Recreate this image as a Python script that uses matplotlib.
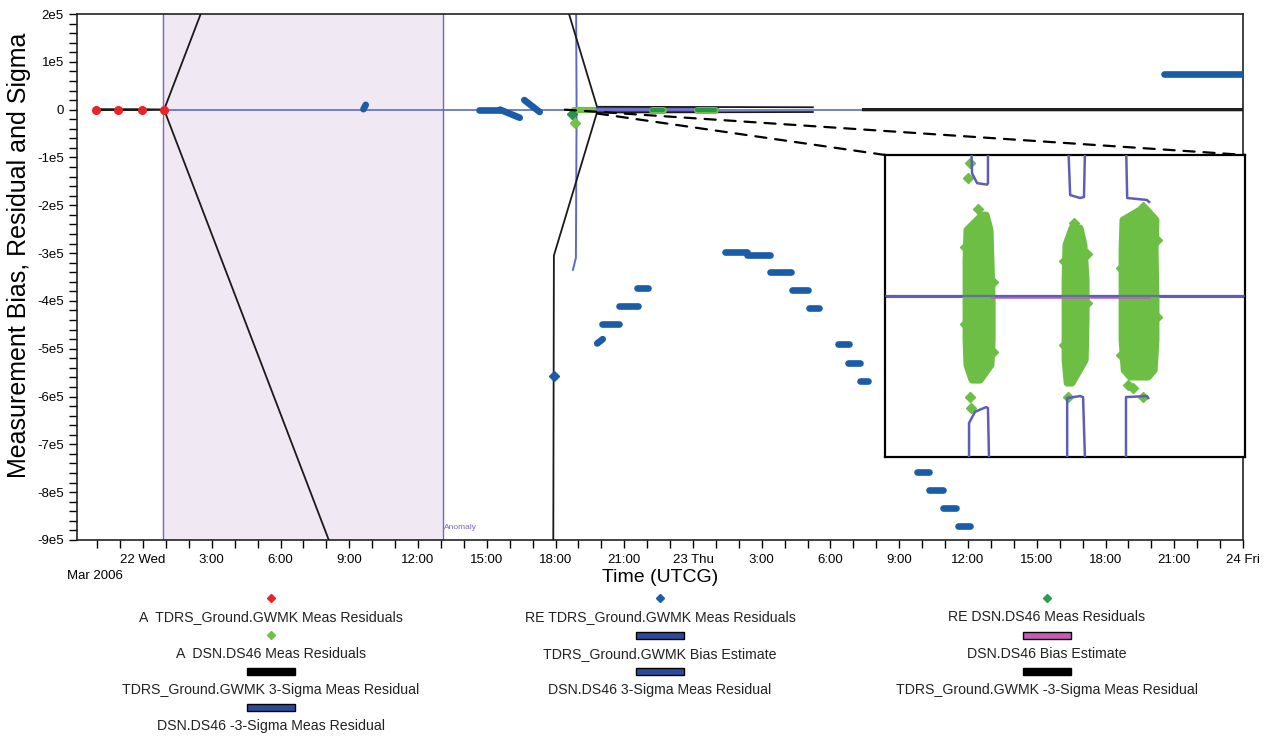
import datetime as dt

import matplotlib
matplotlib.use('Agg')
import matplotlib.pyplot as plt
from matplotlib.lines import Line2D
from matplotlib.patches import ConnectionPatch, Rectangle
from matplotlib.ticker import FuncFormatter, MultipleLocator

plt.rcParams['font.family'] = ['Liberation Sans', 'DejaVu Sans']

# time axis: hours since 22 Mar 2006 00:00 UTCG
T0 = dt.datetime(2006, 3, 22)
T_MIN, T_MAX = -2.88, 48.0
V_MIN, V_MAX = -9e5, 2e5

# A TDRS_Ground.GWMK Meas Residuals
a_tdrs_t = [-2.05, -1.09, -0.04, 0.92]
a_tdrs_v = [0, 0, 0, 0]

# RE TDRS_Ground.GWMK Meas Residuals, dense runs of points (start/end of each run)
re_tdrs_t0 = [9.62, 14.67, 15.58, 16.64, 19.82, 20.04, 20.78, 21.57, 25.40, 26.35, 27.37,
              28.33, 29.07, 30.34, 30.77, 31.30, 33.78, 34.30, 34.90, 35.57, 44.56]
re_tdrs_t1 = [9.72, 15.58, 16.44, 17.31, 20.06, 20.76, 21.58, 22.02, 26.35, 27.34, 28.26,
              29.00, 29.52, 30.79, 31.27, 31.62, 34.28, 34.89, 35.46, 36.07, 48.5]
re_tdrs_v0 = [0.01e5, 0, 0, 0.20e5, -4.89e5, -4.49e5, -4.10e5, -3.73e5, -2.98e5, -3.03e5,
              -3.39e5, -3.77e5, -4.15e5, -4.91e5, -5.29e5, -5.67e5, -7.57e5, -7.95e5,
              -8.33e5, -8.70e5, 0.75e5]
re_tdrs_v1 = [0.10e5, 0, -0.17e5, -0.05e5, -4.80e5, -4.49e5, -4.10e5, -3.73e5, -2.98e5,
              -3.03e5, -3.39e5, -3.77e5, -4.15e5, -4.91e5, -5.29e5, -5.67e5, -7.57e5,
              -7.95e5, -8.33e5, -8.70e5, 0.75e5]
re_tdrs_single_t = [17.93]
re_tdrs_single_v = [-5.56e5]

# A DSN.DS46 Meas Residuals
a_dsn_t0, a_dsn_t1, a_dsn_v = [18.80], [19.62], [0]
a_dsn_pt_t, a_dsn_pt_v = [18.85], [-0.28e5]
# RE DSN.DS46 Meas Residuals
re_dsn_t0, re_dsn_t1, re_dsn_v = [22.22, 24.18], [22.67, 24.94], [0, 0]
re_dsn_pt_t, re_dsn_pt_v = [18.72], [-0.09e5]

# TDRS_Ground.GWMK 3-Sigma / -3-Sigma Meas Residual
sig_tdrs_t = [-2.05, -1.09, -0.04, 0.92, 17.85, 17.93, 19.81, 29.23, float('nan'), 31.41, 48.5]
sig_tdrs_p = [0.01e5, 0.01e5, 0.01e5, 0.0, 2.12e6, 3.05e5, 0.06e5, 0.05e5, float('nan'), 0.015e5, 0.015e5]
sig_tdrs_m = [-0.01e5, -0.01e5, -0.01e5, 0.0, -2.12e6, -3.05e5, -0.06e5, -0.05e5, float('nan'), -0.015e5, -0.015e5]

# DSN.DS46 3-Sigma / -3-Sigma Meas Residual
sig_dsn_t = [18.76, 18.89, 18.92, 25.1]
sig_dsn_p = [3.35e5, 3.10e5, 0.03e5, 0.03e5]
sig_dsn_m = [-3.35e5, -3.10e5, -0.03e5, -0.03e5]

# bias estimates
bias_tdrs_t, bias_tdrs_v = [0.87, 48.5], [0, 0]
bias_dsn_t, bias_dsn_v = [18.9, 25.1], [0, 0]

# anomaly interval
anomaly_t = (0.87, 13.09)

# inset (magnified DSN passes), inset units
ins_clusters = [
    ([0.574, 0.468, 0.255, -0.028, -0.312, -0.489, -0.596],
     [3.23, 2.73, 2.70, 2.70, 2.70, 2.73, 2.90],
     [3.37, 3.50, 3.53, 3.57, 3.57, 3.53, 3.17]),
    ([0.482, 0.362, 0.113, -0.170, -0.454, -0.617],
     [6.23, 6.03, 6.00, 6.00, 6.00, 6.07],
     [6.50, 6.63, 6.70, 6.70, 6.67, 6.23]),
    ([0.610, 0.539, 0.326, -0.028, -0.312, -0.525, -0.574],
     [8.50, 7.93, 7.90, 7.90, 7.90, 7.97, 8.17],
     [8.73, 9.03, 9.00, 9.03, 9.03, 8.97, 8.77]),
]
ins_pts_t = [2.83, 2.77, 2.83, 2.87, 6.10, 8.10, 8.27, 8.60, 3.10, 3.30, 6.30, 8.60,
             2.68, 3.60, 2.68, 3.60, 5.97, 6.73, 5.97, 6.73, 7.87, 9.06, 7.87, 9.06]
ins_pts_v = [0.943, 0.837, -0.716, -0.794, -0.716, -0.63, -0.65, -0.716, 0.62, 0.56, 0.52, 0.63,
             0.35, 0.10, -0.20, -0.40, 0.25, -0.05, -0.35, 0.30, 0.20, 0.40, -0.42, -0.15]
ins_sig_curves = [
    ([2.87, 2.90, 3.07, 3.40, 3.43, 3.43], [1.1, 0.87, 0.80, 0.79, 0.80, 1.1]),
    ([6.10, 6.17, 6.50, 6.63, 6.67], [1.1, 0.716, 0.695, 0.702, 1.1]),
    ([8.03, 8.07, 8.73, 8.80], [1.1, 0.695, 0.681, 0.667]),
    ([2.80, 2.80, 3.00, 3.37, 3.43, 3.47], [-1.2, -0.90, -0.82, -0.787, -0.794, -1.2]),
    ([6.07, 6.07, 6.50, 6.60, 6.67], [-1.2, -0.723, -0.709, -0.716, -1.2]),
    ([8.03, 8.03, 8.73, 8.77], [-1.2, -0.716, -0.709, -0.723]),
]
ins_bias_t, ins_bias_v = [0, 12], [0, 0]
ins_dsn_bias_t, ins_dsn_bias_v = [3.57, 8.83], [-0.014, -0.014]

legend_labels = [
    'A  TDRS_Ground.GWMK Meas Residuals', 'RE TDRS_Ground.GWMK Meas Residuals', 'RE DSN.DS46 Meas Residuals',
    'A  DSN.DS46 Meas Residuals', 'TDRS_Ground.GWMK Bias Estimate', 'DSN.DS46 Bias Estimate',
    'TDRS_Ground.GWMK 3-Sigma Meas Residual', 'DSN.DS46 3-Sigma Meas Residual',
    'TDRS_Ground.GWMK -3-Sigma Meas Residual', 'DSN.DS46 -3-Sigma Meas Residual',
]
legend_kinds = ['D', 'D', 'D', 'D', 'bar', 'bar', 'bar', 'bar', 'bar', 'bar']
legend_colors = ['#E8232A', '#1A5CA8', '#23A050', '#74C044', '#2B4A9A', '#C65BB8',
                 '#000000', '#2B4A9A', '#000000', '#2B4A9A']

RED = '#E8232A'
BLUE_PTS = '#1A5CA8'
LIGHT_GREEN = '#74C044'
DARK_GREEN = '#23964A'
SIGMA_BLUE = '#5B6BC4'
PINK = '#C65BB8'
ANOM_EDGE = '#7E63C0'
ANOM_FILL = '#F0E9F3'
INSET_GREEN = '#6DBE45'
INSET_BLUE = '#5E5EB8'

W, H = 1276, 738
fig = plt.figure(figsize=(W / 100, H / 100), dpi=100)
ax = fig.add_axes([77 / W, 1 - 540 / H, (1243 - 77) / W, (540 - 14) / H])

ax.axvspan(*anomaly_t, color=ANOM_FILL, zorder=0)
for t in anomaly_t:
    ax.axvline(t, color=ANOM_EDGE, lw=1.0, zorder=1)
ax.text(anomaly_t[1] + 0.06, -8.73e5, 'Anomaly', fontsize=6, color=ANOM_EDGE, va='center')

ax.plot(bias_tdrs_t, bias_tdrs_v, color=SIGMA_BLUE, lw=1.2, zorder=2)
ax.plot(bias_dsn_t, bias_dsn_v, color=PINK, lw=1.0, zorder=2)
ax.plot(sig_dsn_t, sig_dsn_p, color=SIGMA_BLUE, lw=1.4, zorder=2)
ax.plot(sig_dsn_t, sig_dsn_m, color=SIGMA_BLUE, lw=1.4, zorder=2)
ax.plot(sig_tdrs_t, sig_tdrs_p, color='#1A1A1A', lw=1.3, zorder=3)
ax.plot(sig_tdrs_t, sig_tdrs_m, color='#1A1A1A', lw=1.3, zorder=3)

ax.plot(a_tdrs_t, a_tdrs_v, 'o', color=RED, ms=5.5, zorder=4)

for t0, t1, v0, v1 in zip(re_tdrs_t0, re_tdrs_t1, re_tdrs_v0, re_tdrs_v1):
    ax.plot([t0, t1], [v0, v1], color=BLUE_PTS, lw=4.8, solid_capstyle='round', zorder=4)
ax.plot(re_tdrs_single_t, re_tdrs_single_v, 'D', color=BLUE_PTS, ms=5, zorder=4)

for t0, t1, v in zip(a_dsn_t0, a_dsn_t1, a_dsn_v):
    ax.plot([t0, t1], [v, v], color=LIGHT_GREEN, lw=4.5, solid_capstyle='round', zorder=4)
ax.plot(a_dsn_pt_t, a_dsn_pt_v, 'D', color=LIGHT_GREEN, ms=5, zorder=4)
for t0, t1, v in zip(re_dsn_t0, re_dsn_t1, re_dsn_v):
    ax.plot([t0, t1], [v, v], color=LIGHT_GREEN, lw=5, solid_capstyle='round', zorder=4)
    ax.plot([t0, t1], [v, v], color=DARK_GREEN, lw=3, solid_capstyle='round', zorder=4)
ax.plot(re_dsn_pt_t, re_dsn_pt_v, 'D', color=DARK_GREEN, ms=5, zorder=4)

ax.set_xlim(T_MIN, T_MAX)
ax.set_ylim(V_MIN, V_MAX)


def time_label(h, pos):
    d = T0 + dt.timedelta(hours=round(h))
    if d.hour == 0:
        return d.strftime('%d %a')
    return f'{d.hour}:{d.minute:02d}'


def value_label(v, pos):
    if abs(v) < 1:
        return '0'
    return f'{int(round(v / 1e5))}e5'


ax.xaxis.set_major_locator(MultipleLocator(3))
ax.xaxis.set_minor_locator(MultipleLocator(1))
ax.xaxis.set_major_formatter(FuncFormatter(time_label))
ax.yaxis.set_major_locator(MultipleLocator(1e5))
ax.yaxis.set_minor_locator(MultipleLocator(2e4))
ax.yaxis.set_major_formatter(FuncFormatter(value_label))
ax.tick_params(which='both', direction='out', length=6, width=1, labelsize=9.5, colors='black')
ax.tick_params(axis='x', pad=4)
for s in ax.spines.values():
    s.set_linewidth(1.2)
    s.set_color('#222222')

fig.text(95 / W, 1 - 576 / H, 'Mar 2006', fontsize=9.5, ha='center', va='center')
fig.text(660 / W, 1 - 577 / H, 'Time (UTCG)', fontsize=14, ha='center', va='center')
fig.text(19 / W, 1 - 255 / H, 'Measurement Bias, Residual and Sigma', fontsize=18,
         rotation=90, ha='center', va='center')

# inset
axins = ax.inset_axes([0.693, 0.158, 0.3088, 0.574])
axins.set_zorder(6)
axins.set_facecolor('white')
axins.set_xlim(0, 12)
axins.set_ylim(-1.14, 1.0)
axins.set_xticks([])
axins.set_yticks([])
for s in axins.spines.values():
    s.set_linewidth(1.6)
    s.set_color('black')
axins.plot(ins_bias_t, ins_bias_v, color=INSET_BLUE, lw=2.2, zorder=1)
for ys, xl, xr in ins_clusters:
    px = list(xl) + list(xr)[::-1]
    py = list(ys) + list(ys)[::-1]
    axins.fill(px, py, color=INSET_GREEN, lw=5, joinstyle='round', zorder=2)
axins.plot(ins_pts_t, ins_pts_v, 'D', color=INSET_GREEN, ms=5.5, zorder=2)
axins.plot(ins_bias_t, ins_bias_v, color=INSET_BLUE, lw=1.6, alpha=0.8, zorder=3)
axins.plot(ins_dsn_bias_t, ins_dsn_bias_v, color=PINK, lw=1.4, alpha=0.8, zorder=3)
for xs, ys in ins_sig_curves:
    axins.plot(xs, ys, color=INSET_BLUE, lw=1.8, zorder=3)

for xy_main, xy_ins in [((18.41, 0.0), (1, 1)), ((19.81, -0.08e5), (0, 1))]:
    con = ConnectionPatch(xyA=xy_main, coordsA=ax.transData, xyB=xy_ins, coordsB=axins.transAxes,
                          color='black', lw=1.6, linestyle=(0, (5, 4)))
    fig.add_artist(con)

# legend: symbol centred above each label, three columns
col_x = [271, 660, 1047]
row_y = [598, 635, 671, 707]
for i, (label, kind, color) in enumerate(zip(legend_labels, legend_kinds, legend_colors)):
    cx = col_x[i % 3] / W
    sy = 1 - row_y[i // 3] / H
    ty = 1 - (row_y[i // 3] + 19) / H
    if kind == 'D':
        fig.add_artist(Line2D([cx], [sy], marker='D', ms=4.5, color=color, ls='none',
                              transform=fig.transFigure))
    else:
        fig.add_artist(Rectangle((cx - 24 / W, sy - 3.5 / H), 48 / W, 7 / H, facecolor=color,
                                 edgecolor='black', lw=1.0, transform=fig.transFigure))
    fig.text(cx, ty, label, fontsize=10.2, ha='center', va='center', color='#222222')

fig.savefig('out.png', dpi=100)
